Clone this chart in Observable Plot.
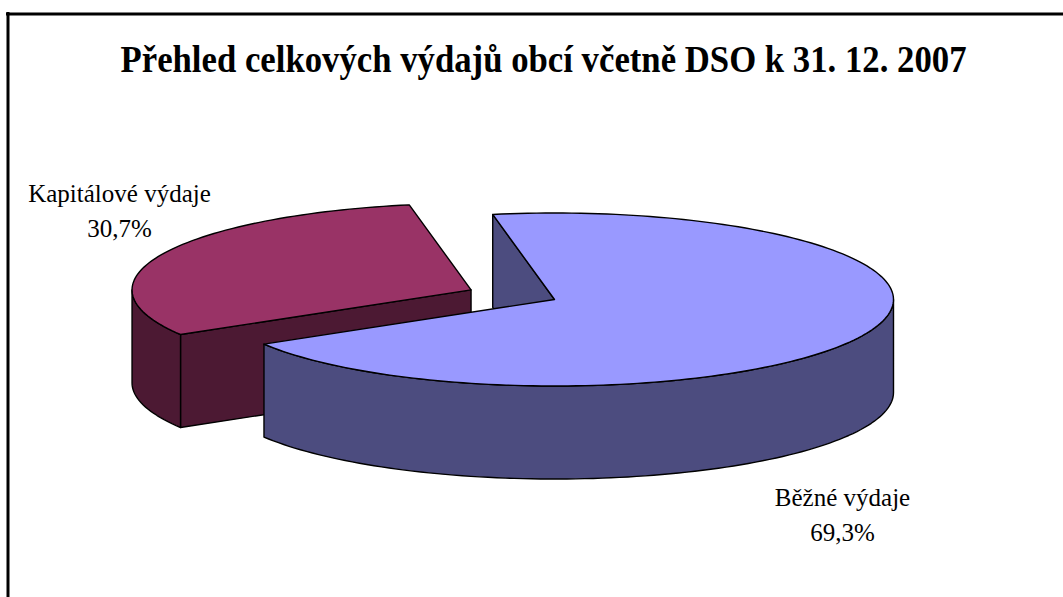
<!DOCTYPE html>
<html>
<head>
<meta charset="utf-8">
<script src="https://cdn.jsdelivr.net/npm/d3@7"></script>
<script src="https://cdn.jsdelivr.net/npm/@observablehq/plot@0.6"></script>
<style>
  html, body { margin: 0; padding: 0; background: #fff; }
  #chart { width: 1063px; height: 597px; overflow: hidden; }
</style>
</head>
<body>
<div id="chart"></div>
<script>
// ---- data ----
const title = "Přehled celkových výdajů obcí včetně DSO k 31. 12. 2007";
const categories = ["Běžné výdaje", "Kapitálové výdaje"];
const values = [69.3, 30.7];

// ---- styles ----
const topColors = ["#9999ff", "#993366"];
const sideColors = ["#4c4c7f", "#4c1933"];
const serif = "Liberation Serif";

// ---- layout ----
const W = 1063, H = 597;
const pie = {cx: 554, cy: 299, rx: 339, ry: 86.5, depth: 93, startDeg: -100.5};
const explodeFrac = [0, 0.27];
const labelAnchor = [[842, 540], [119, 236]];
const titlePos = [543, 71];
const titleWidth = 846;
const border = {left: 7.5, top: 13.5};

// ---- geometry from values ----
const total = d3.sum(values);
const rad = d => d * Math.PI / 180;
let acc = pie.startDeg;
const slices = values.map((v, i) => {
  const a0 = acc, a1 = acc + 360 * v / total;
  acc = a1;
  const mid = rad((a0 + a1) / 2);
  return {i, a0, a1,
    ox: explodeFrac[i] * pie.rx * Math.cos(mid),
    oy: explodeFrac[i] * pie.ry * Math.sin(mid)};
});
const pt = (s, deg, z) => ({x: pie.cx + s.ox + pie.rx * Math.cos(rad(deg)), y: pie.cy + s.oy + pie.ry * Math.sin(rad(deg)) + z});
const apex = (s, z) => ({x: pie.cx + s.ox, y: pie.cy + s.oy + z});
const arc = (s, d0, d1, z) => {
  const n = Math.max(2, Math.ceil(Math.abs(d1 - d0) / 1.5));
  return d3.range(n + 1).map(k => pt(s, d0 + (d1 - d0) * k / n, z));
};

const faces = [];
let fid = 0;
function addFace(points, fill) {
  const id = fid++;
  points.forEach(p => faces.push({x: p.x, y: p.y, face: id, fill}));
}
const order = [...slices].sort((a, b) => a.oy - b.oy);
for (const s of order) {
  const side = sideColors[s.i], top = topColors[s.i];
  for (const [deg, normal] of [[s.a0, s.a0 - 90], [s.a1, s.a1 + 90]]) {
    if (Math.sin(rad(normal)) > 0)
      addFace([apex(s, 0), pt(s, deg, 0), pt(s, deg, pie.depth), apex(s, pie.depth)], side);
  }
  for (const k of [-360, 0, 360]) {
    const lo = Math.max(s.a0, k), hi = Math.min(s.a1, k + 180);
    if (hi > lo) addFace([...arc(s, lo, hi, 0), ...arc(s, hi, lo, pie.depth)], side);
  }
  addFace([apex(s, 0), ...arc(s, s.a0, s.a1, 0)], top);
}

const labels = categories.map((c, i) => ({
  text: c + "\n" + values[i].toFixed(1).replace(".", ",") + "%",
  x: labelAnchor[i][0], y: labelAnchor[i][1]
}));

const chart = Plot.plot({
  width: W, height: H, margin: 0,
  x: {domain: [0, W], range: [0, W], axis: null},
  y: {domain: [0, H], range: [0, H], axis: null},
  color: {type: "identity"},
  marks: [
    Plot.ruleX([border.left], {y1: border.top - 1.5, y2: H, stroke: "#000", strokeWidth: 3}),
    Plot.ruleY([border.top], {x1: border.left - 1.5, x2: W, stroke: "#000", strokeWidth: 3}),
    Plot.line(faces, {x: "x", y: "y", z: "face", fill: "fill", stroke: "#000", strokeWidth: 1.4,
      curve: "linear-closed", strokeLinejoin: "round"}),
    Plot.text([title], {x: () => titlePos[0], y: () => titlePos[1], text: d => d,
      fontSize: 37, fontWeight: "bold", fontFamily: serif, lineAnchor: "bottom", fill: "#000"}),
    Plot.text(labels, {x: "x", y: "y", text: "text", fontSize: 25, fontFamily: serif,
      lineAnchor: "bottom", lineHeight: 1.4, textAnchor: "middle", fill: "#000"})
  ]
});
d3.select(chart).selectAll("text")
  .filter(function() { return this.textContent === title; })
  .attr("textLength", titleWidth)
  .attr("lengthAdjust", "spacingAndGlyphs");
document.getElementById("chart").appendChild(chart);
</script>
</body>
</html>
